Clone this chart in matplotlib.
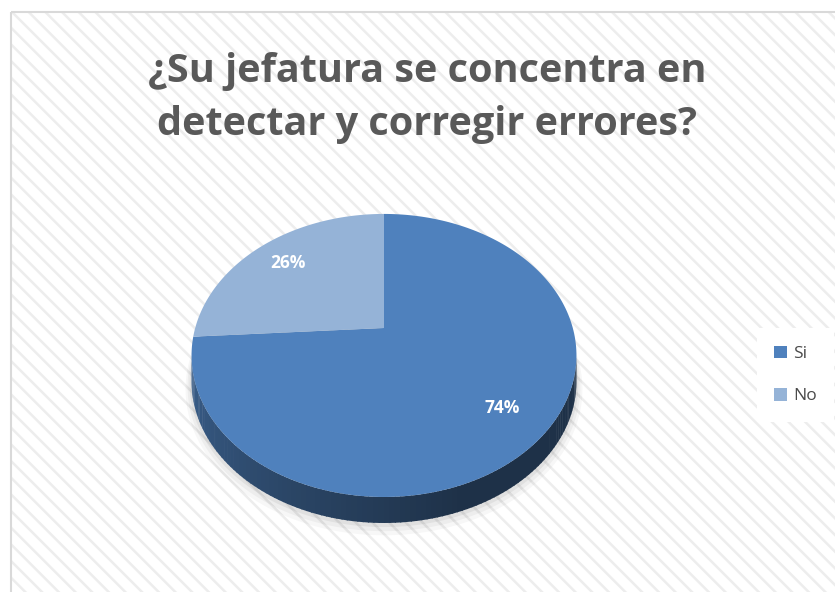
"""
plot.py
-------
3D-style pie chart: ¿Su jefatura se concentra en detectar y corregir errores?
"""

import numpy as np
import matplotlib
matplotlib.use("Agg")
import matplotlib.pyplot as plt
import matplotlib.patches as mpatches
from matplotlib.colors import to_rgb


# ─── Data ─────────────────────────────────────────────────────────────────────

labels = ["Si", "No"]
values = [74, 26]
colors = ["#4F81BD", "#95B3D7"]

TITLE = "¿Su jefatura se concentra en\ndetectar y corregir errores?"


# ─── Geometry (pixel units, origin at pie vertex) ─────────────────────────────

W, H = 835, 592
CX, CY = 384, 328          # pie vertex in image pixels
RX, RY = 188.8, 136.2      # horizontal / vertical scale
PERSP = 0.194              # perspective strength (back smaller than front)
DEPTH = 26                 # thickness of the pie side


def proj(theta_deg, r=1.0):
    t = np.radians(theta_deg)
    x, y = r * np.cos(t), r * np.sin(t)
    k = 1.0 + PERSP * y
    return RX * x / k, RY * y / k


def shade(c, f):
    return tuple(np.clip(np.array(to_rgb(c)) * f, 0, 1))


plt.rcParams["font.family"] = ["Open Sans", "DejaVu Sans"]
plt.rcParams["hatch.linewidth"] = 1.8

fig = plt.figure(figsize=(W / 100, H / 100), dpi=100, facecolor="white")

# chart area background with diagonal stripes (behind everything)
bg_ax = fig.add_axes([0, 0, 1, 1], zorder=-5)
bg_ax.set_xlim(0, W)
bg_ax.set_ylim(H, 0)
bg_ax.axis("off")
bg_ax.add_patch(mpatches.Rectangle((11, 12), W, H, facecolor="white",
                                   edgecolor="#ededed", linewidth=0,
                                   hatch="\\\\"))
bg_ax.add_patch(mpatches.Rectangle((11, 12), W, H, facecolor="none",
                                   edgecolor="#d9d9d9", linewidth=1.5))

ax = fig.add_axes([0, 0, 1, 1], zorder=0)
ax.set_xlim(-CX, W - CX)
ax.set_ylim(-(H - CY), CY)
ax.axis("off")

# ─── Slices (clockwise from 12 o'clock, like Excel) ──────────────────────────

fracs = np.array(values, dtype=float) / sum(values)
ends = 90 - 360 * np.cumsum(fracs)
starts = np.concatenate([[90], ends[:-1]])

# soft shadow below the pie
tt = np.linspace(0, 360, 200)
for i, a in enumerate([0.05, 0.04, 0.03]):
    sx, sy = proj(tt, 1.0 + 0.01 * (i + 1))
    ax.fill(sx, sy - DEPTH - 2 - 2 * i, color="black", alpha=a, lw=0, zorder=1)

# visible side: front arc between the silhouette extremes
t_left = 180 + np.degrees(np.arcsin(PERSP))
t_right = 360 - np.degrees(np.arcsin(PERSP))
n_strips = 120
edges = np.linspace(t_left, t_right, n_strips + 1)
for a0, a1 in zip(edges[:-1], edges[1:]):
    mid = (a0 + a1) / 2
    # which slice owns this angle
    idx = 0
    for j, (s, e) in enumerate(zip(starts, ends)):
        m = mid if mid <= s else mid - 360
        if e <= m <= s:
            idx = j
    frac = (mid - t_left) / (t_right - t_left)
    f = 0.74 - 0.36 * min(1.0, frac * 1.6)
    seg = np.linspace(a0, a1 + 0.3, 4)
    xt, yt = proj(seg)
    xs = np.concatenate([xt, xt[::-1]])
    ys = np.concatenate([yt, yt[::-1] - DEPTH])
    ax.fill(xs, ys, color=shade(colors[idx], f), lw=0, zorder=2)

# top surface
for s, e, c in zip(starts, ends, colors):
    arc = np.linspace(s, e, 200)
    ax_, ay_ = proj(arc)
    ax.fill(np.concatenate([[0], ax_]), np.concatenate([[0], ay_]),
            color=c, lw=0, zorder=3)

# percentage labels
for s, e, v in zip(starts, ends, fracs):
    lx, ly = proj((s + e) / 2, 0.77)
    ax.text(lx, ly, f"{v * 100:.0f}%", color="white", fontsize=12.5,
            fontweight="bold", ha="center", va="center", zorder=4)

# ─── Title & legend ──────────────────────────────────────────────────────────

fig.text(427 / W, 1 - 98 / H, TITLE, ha="center", va="center",
         fontsize=28.5, fontweight="bold", color="#595959", linespacing=1.45)

handles = [mpatches.Patch(facecolor=c, edgecolor="none", label=l)
           for l, c in zip(labels, colors)]
leg = fig.legend(handles=handles, loc="center left",
                 bbox_to_anchor=(748 / W, 1 - 375 / H), frameon=True,
                 fontsize=12.5, labelcolor="#4a4a4a", handlelength=0.75,
                 handleheight=0.75, handletextpad=0.35, labelspacing=1.5,
                 borderpad=1.0, fancybox=False)
leg.get_frame().set_facecolor("white")
leg.get_frame().set_edgecolor("none")
leg.get_frame().set_alpha(1)

fig.savefig("out.png", dpi=100, facecolor="white")
